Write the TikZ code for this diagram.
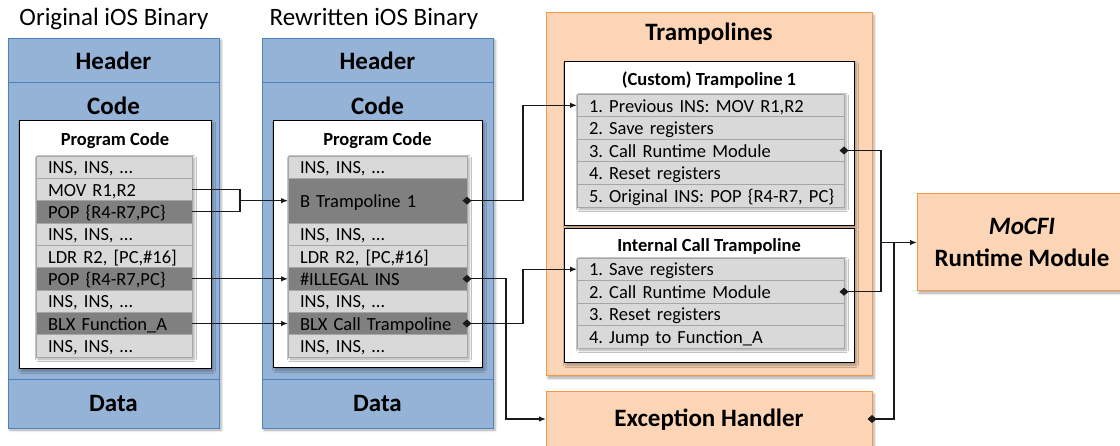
\documentclass[tikz,border=0pt]{standalone}
\usepackage{fontspec}
\setmainfont{Carlito}
\frenchspacing
\usetikzlibrary{arrows.meta,shadows.blur,calc}
\definecolor{bfill}{HTML}{95B3D7}
\definecolor{bline}{HTML}{4F81BD}
\definecolor{ofill}{HTML}{FBD5B5}
\definecolor{oline}{HTML}{F79646}
\definecolor{lrow}{HTML}{D9D9D9}
\definecolor{drow}{HTML}{808080}
\definecolor{rline}{HTML}{A6A6A6}
\definecolor{linec}{HTML}{1A1A1A}
\tikzset{
  shd/.style={blur shadow={shadow xshift=2pt,shadow yshift=-2pt,shadow blur radius=2.5pt,shadow opacity=35}},
  box/.style={anchor=north west,inner sep=0pt,outer sep=0pt},
  bsec/.style={box,draw=bline,line width=0.8pt,fill=bfill},
  wbox/.style={box,draw=black,line width=1pt,fill=white,shd},
  obox/.style={box,draw=oline,line width=1pt,fill=ofill,shd},
  big/.style={anchor=base,inner sep=0pt,font=\fontsize{25}{30}\selectfont\bfseries},
  sub/.style={anchor=base,inner sep=0pt,font=\fontsize{18.5}{22}\selectfont\bfseries},
  ttl/.style={anchor=base,inner sep=0pt,font=\fontsize{25}{30}\selectfont},
  rowbase/.style={box,draw=rline,line width=0.8pt,minimum height=22.33pt,
     inner xsep=12pt,align=left,text height=16.5pt,text depth=3pt,
     font=\fontsize{18.5}{22}\selectfont},
  lr/.style={rowbase,fill=lrow},
  dr/.style={rowbase,fill=drow},
  conn/.style={line width=1.2pt,draw=linec},
  arr/.style={conn,-{Latex[length=7pt,width=5.5pt]}},
  darr/.style={conn,{Diamond[length=9pt,width=8pt]}-{Latex[length=7pt,width=5.5pt]}},
  dd/.style={conn,{Diamond[length=9pt,width=8pt]}-{Diamond[length=9pt,width=8pt]}},
  dl/.style={conn,{Diamond[length=9pt,width=8pt]}-},
}
\begin{document}
\begin{tikzpicture}[x=1pt,y=-1pt]
\useasboundingbox (0,0) rectangle (1120,446);

% titles
\node[ttl] (t1) at (114,26) {Original iOS Binary};
\node[ttl] (t2) at (374,26) {Rewritten iOS Binary};

% ---------- left binary ----------
\node[box,fill=bfill,shd,minimum width=211pt,minimum height=390pt] (lb) at (8,38) {};
\node[bsec,minimum width=211pt,minimum height=44pt] (lh) at (8,38) {};
\node[bsec,minimum width=211pt,minimum height=297pt] (lc) at (8,82) {};
\node[bsec,minimum width=211pt,minimum height=49pt] (ld) at (8,379) {};
\node[big] (lhl) at (113.5,70) {Header};
\node[big] (lcl) at (113.5,115) {Code};
\node[big] (ldl) at (113.5,412) {Data};
\node[wbox,minimum width=192pt,minimum height=248pt] (lw) at (19,121) {};
\node[sub] (lpc) at (115,146) {Program Code};
\node[box,fill=lrow,shd,minimum width=156pt,minimum height=201pt] (llist) at (36,156) {};
\begin{scope}[rowbase/.append style={text width=132pt}]
\node[lr] (L1) at (36,156.00) {INS, INS, …};
\node[lr] (L2) at (36,178.33) {MOV R1,R2};
\node[dr] (L3) at (36,200.67) {POP \{R4-R7,PC\}};
\node[lr] (L4) at (36,223.00) {INS, INS, …};
\node[lr] (L5) at (36,245.33) {LDR R2, [PC,\#16]};
\node[dr] (L6) at (36,267.67) {POP \{R4-R7,PC\}};
\node[lr] (L7) at (36,290.00) {INS, INS, …};
\node[dr] (L8) at (36,312.33) {\mbox{BLX Function\_A}};
\node[lr] (L9) at (36,334.67) {INS, INS, …};
\end{scope}

% ---------- right binary ----------
\node[box,fill=bfill,shd,minimum width=231pt,minimum height=390pt] (rb) at (262,38) {};
\node[bsec,minimum width=231pt,minimum height=44pt] (rh) at (262,38) {};
\node[bsec,minimum width=231pt,minimum height=297pt] (rc) at (262,82) {};
\node[bsec,minimum width=231pt,minimum height=49pt] (rd) at (262,379) {};
\node[big] (rhl) at (377.5,70) {Header};
\node[big] (rcl) at (377.5,115) {Code};
\node[big] (rdl) at (377.5,412) {Data};
\node[wbox,minimum width=209pt,minimum height=247pt] (rw) at (273,121) {};
\node[sub] (rpc) at (377.5,146) {Program Code};
\node[box,fill=lrow,shd,minimum width=179pt,minimum height=201pt] (rlist) at (288,156) {};
\begin{scope}[rowbase/.append style={text width=155pt}]
\node[lr] (R1) at (288,156.00) {INS, INS, …};
\node[dr,minimum height=44.67pt] (R2) at (288,178.33) {B Trampoline 1};
\node[lr] (R3) at (288,223.00) {INS, INS, …};
\node[lr] (R4) at (288,245.33) {LDR R2, [PC,\#16]};
\node[dr] (R5) at (288,267.67) {\#ILLEGAL INS};
\node[lr] (R6) at (288,290.00) {INS, INS, …};
\node[dr] (R7) at (288,312.33) {\mbox{BLX Call Trampoline}};
\node[lr] (R8) at (288,334.67) {INS, INS, …};
\end{scope}

% ---------- trampolines ----------
\node[obox,minimum width=326pt,minimum height=363pt] (tr) at (546,13) {};
\node[big] (trl) at (709,41) {Trampolines};
\node[wbox,minimum width=290pt,minimum height=164pt] (tb1) at (564,62) {};
\node[sub] (tb1l) at (709,86) {(Custom) Trampoline 1};
\node[box,fill=lrow,shd,minimum width=267pt,minimum height=113pt] (tlist) at (577,94) {};
\begin{scope}[rowbase/.append style={text width=243pt,minimum height=22.6pt}]
\node[lr] (T1) at (577,94.0) {\mbox{1. Previous INS: MOV R1,R2}};
\node[lr] (T2) at (577,116.6) {2. Save registers};
\node[lr] (T3) at (577,139.2) {3. Call Runtime Module};
\node[lr] (T4) at (577,161.8) {4. Reset registers};
\node[lr] (T5) at (577,184.4) {\mbox{5. Original INS: POP \{R4-R7, PC\}}};
\end{scope}
\node[wbox,minimum width=290pt,minimum height=134pt] (tb2) at (564,229) {};
\node[sub] (tb2l) at (709,252) {Internal Call Trampoline};
\node[box,fill=lrow,shd,minimum width=267pt,minimum height=90pt] (clist) at (577,258) {};
\begin{scope}[rowbase/.append style={text width=243pt,minimum height=22.5pt}]
\node[lr] (C1) at (577,258.0) {1. Save registers};
\node[lr] (C2) at (577,280.5) {2. Call Runtime Module};
\node[lr] (C3) at (577,303.0) {3. Reset registers};
\node[lr] (C4) at (577,325.5) {4. Jump to Function\_A};
\end{scope}

% ---------- exception handler & runtime ----------
\node[obox,minimum width=326pt,minimum height=60pt] (EH) at (546,392) {};
\node[big] (EHl) at (709,427) {Exception Handler};
\node[obox,minimum width=210pt,minimum height=97pt] (MO) at (917,194) {};
\node[big] (MOa) at (1022,235) {\textit{MoCFI}};
\node[big] (MOb) at (1022,267) {Runtime Module};

% ---------- connectors ----------
\coordinate (xa) at (240,0);
\coordinate (xb) at (523,0);
\coordinate (xc) at (506,0);
\coordinate (xd) at (881,0);
\coordinate (xe) at (894,0);
\coordinate (ye) at (0,419);

\draw[conn] (L2.east) -| (xa |- L3.east) -- (L3.east);
\draw[arr] (xa |- R2.west) -- (R2.west);
\draw[arr] (L6.east) -- (R5.west);
\draw[arr] (L8.east) -- (R7.west);
\draw[darr] ([xshift=-4.5pt]R2.east) -- (xb |- R2.east) |- (T1.west);
\draw[darr] ([xshift=-4.5pt]R5.east) -- (xc |- R5.east) |- (EH.west |- ye);
\draw[darr] ([xshift=-4.5pt]R7.east) -- (xb |- R7.east) |- (C1.west);
\draw[dd] ([xshift=-4.5pt]T3.east) -- (xd |- T3.east) |- ([xshift=-4.5pt]C2.east);
\draw[arr] (xd |- MO.west) -- (MO.west);
\draw[dl] ([xshift=-4.5pt]EH.east |- ye) -- (xe |- ye) -- (xe |- MO.west);
\end{tikzpicture}
\end{document}
